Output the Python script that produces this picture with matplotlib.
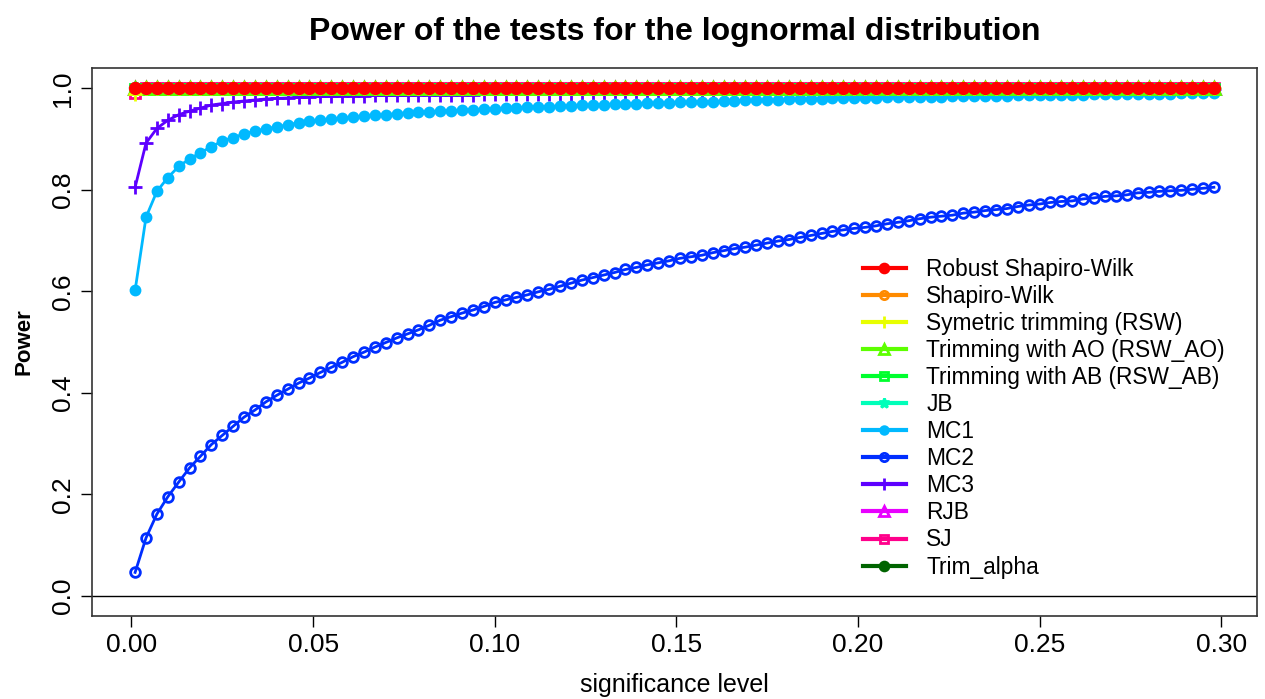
import numpy as np
import matplotlib.pyplot as plt

plt.rcParams['font.family'] = ['Liberation Sans', 'DejaVu Sans']

# significance levels 0.001, 0.004, ..., 0.298
alpha = np.round(np.arange(0.001, 0.2995, 0.003), 3)

robust_sw = [1.0] * 100
shapiro_wilk = [1.0] * 100
rsw = [0.988] + [1.0] * 99
rsw_ao = [1.0] * 100
rsw_ab = [0.999] * 100
jb = [1.0] * 100
rjb = [1.0] * 100
sj = [0.990] + [1.0] * 99
trim_alpha = [1.0] * 100

mc1 = [0.602, 0.746, 0.797, 0.824, 0.846, 0.861, 0.873, 0.885, 0.896, 0.903,
       0.910, 0.916, 0.920, 0.924, 0.928, 0.932, 0.935, 0.937, 0.939, 0.941,
       0.943, 0.945, 0.947, 0.948, 0.950, 0.952, 0.953, 0.954, 0.955, 0.956,
       0.957, 0.958, 0.959, 0.960, 0.961, 0.962, 0.963, 0.964, 0.964, 0.965,
       0.966, 0.967, 0.967, 0.968, 0.969, 0.969, 0.970, 0.971, 0.971, 0.972,
       0.973, 0.973, 0.974, 0.974, 0.975, 0.975, 0.976, 0.976, 0.977, 0.977,
       0.978, 0.978, 0.979, 0.979, 0.980, 0.980, 0.980, 0.981, 0.981, 0.982,
       0.982, 0.982, 0.983, 0.983, 0.983, 0.984, 0.984, 0.984, 0.985, 0.985,
       0.985, 0.986, 0.986, 0.986, 0.987, 0.987, 0.987, 0.987, 0.988, 0.988,
       0.988, 0.988, 0.989, 0.989, 0.989, 0.989, 0.990, 0.990, 0.990, 0.990]

mc2 = [0.046, 0.114, 0.161, 0.195, 0.224, 0.252, 0.275, 0.298, 0.316, 0.334,
       0.352, 0.366, 0.382, 0.395, 0.407, 0.419, 0.429, 0.440, 0.450, 0.460,
       0.471, 0.480, 0.490, 0.499, 0.508, 0.516, 0.524, 0.533, 0.543, 0.550,
       0.557, 0.563, 0.570, 0.578, 0.583, 0.588, 0.593, 0.599, 0.604, 0.610,
       0.616, 0.622, 0.627, 0.632, 0.637, 0.643, 0.647, 0.652, 0.656, 0.660,
       0.665, 0.668, 0.671, 0.676, 0.680, 0.684, 0.687, 0.691, 0.695, 0.699,
       0.702, 0.706, 0.710, 0.714, 0.718, 0.721, 0.724, 0.726, 0.729, 0.733,
       0.736, 0.739, 0.743, 0.746, 0.748, 0.750, 0.754, 0.756, 0.759, 0.761,
       0.763, 0.767, 0.770, 0.772, 0.775, 0.777, 0.778, 0.782, 0.784, 0.787,
       0.788, 0.790, 0.794, 0.795, 0.797, 0.798, 0.799, 0.801, 0.803, 0.805]

mc3 = [0.805, 0.892, 0.921, 0.937, 0.948, 0.955, 0.961, 0.967, 0.970, 0.973,
       0.975, 0.977, 0.979, 0.980, 0.981, 0.982, 0.983, 0.984, 0.984, 0.985,
       0.985, 0.985, 0.986, 0.986, 0.986, 0.986, 0.987, 0.987, 0.987, 0.987,
       0.987, 0.987, 0.988, 0.988, 0.988, 0.988, 0.988, 0.988, 0.988, 0.988,
       0.988, 0.989, 0.989, 0.989, 0.989, 0.989, 0.989, 0.989, 0.989, 0.989,
       0.989, 0.989, 0.990, 0.990, 0.990, 0.990, 0.990, 0.990, 0.990, 0.990,
       0.990, 0.990, 0.990, 0.990, 0.991, 0.991, 0.991, 0.991, 0.992, 0.992,
       0.992, 0.993, 0.993, 0.993, 0.994, 0.994, 0.994, 0.995, 0.995, 0.995,
       0.995, 0.996, 0.996, 0.996, 0.996, 0.997, 0.997, 0.997, 0.997, 0.997,
       0.997, 0.997, 0.998, 0.998, 0.998, 0.998, 0.998, 0.998, 0.998, 0.998]

labels = ['Robust Shapiro-Wilk', 'Shapiro-Wilk', 'Symetric trimming (RSW)',
          'Trimming with AO (RSW_AO)', 'Trimming with AB (RSW_AB)', 'JB',
          'MC1', 'MC2', 'MC3', 'RJB', 'SJ', 'Trim_alpha']
series = [robust_sw, shapiro_wilk, rsw, rsw_ao, rsw_ab, jb,
          mc1, mc2, mc3, rjb, sj, trim_alpha]
colors = ['#FF0000', '#FF8B00', '#E8FF00', '#5DFF00', '#00FF2E', '#00FFB9',
          '#00B9FF', '#002EFF', '#5D00FF', '#E800FF', '#FF008B', '#006400']
markers = ['o', 'o', '+', '^', 's', '*', 'o', 'o', '+', '^', 's', 'o']
filled = [True, False, False, False, False, True, True, False, False, False, False, True]
msizes = [7.5, 7, 10, 8, 7, 9, 6.5, 7, 10, 8, 7, 7.5]

fig = plt.figure(figsize=(12.65, 6.99), dpi=100)
ax = fig.add_axes([0.0727, 0.1187, 0.921, 0.784])

for k in range(len(series) - 1, -1, -1):
    fc = colors[k] if filled[k] else 'none'
    ax.plot(alpha, series[k], color=colors[k], lw=2, marker=markers[k],
            ms=msizes[k], mfc=fc, mec=colors[k], mew=2,
            zorder=3 + (len(series) - k))

ax.axhline(0, color='black', lw=1, zorder=2)

ax.set_xlim(-0.01088, 0.30988)
ax.set_ylim(-0.04, 1.04)
ax.set_xticks([0.00, 0.05, 0.10, 0.15, 0.20, 0.25, 0.30])
ax.set_xticklabels(['0.00', '0.05', '0.10', '0.15', '0.20', '0.25', '0.30'])
ax.set_yticks([0.0, 0.2, 0.4, 0.6, 0.8, 1.0])
ax.set_yticklabels(['0.0', '0.2', '0.4', '0.6', '0.8', '1.0'], rotation=90, va='center')
ax.tick_params(direction='out', length=8, width=1, labelsize=19, pad=4)
for sp in ax.spines.values():
    sp.set_linewidth(1.2)
    sp.set_color('#333333')

ax.set_xlabel('significance level', fontsize=18, labelpad=12)
ax.set_ylabel('Power', fontsize=16, fontweight='bold', labelpad=12)
ax.set_title('Power of the tests for the lognormal distribution',
             fontsize=23, fontweight='bold', pad=20)

leg_handles = []
for k in range(len(series)):
    fc = colors[k] if filled[k] else 'none'
    h, = ax.plot([], [], color=colors[k], lw=3, marker=markers[k],
                 ms=msizes[k] * 0.85, mfc=fc, mec=colors[k], mew=2)
    leg_handles.append(h)
fig.legend(leg_handles, labels, loc='upper left', bbox_to_anchor=(0.6747, 0.644),
           frameon=False, fontsize=16.4, handlelength=1.9, handletextpad=0.9,
           labelspacing=0.178, borderaxespad=0)

fig.savefig('out.png', dpi=100)
